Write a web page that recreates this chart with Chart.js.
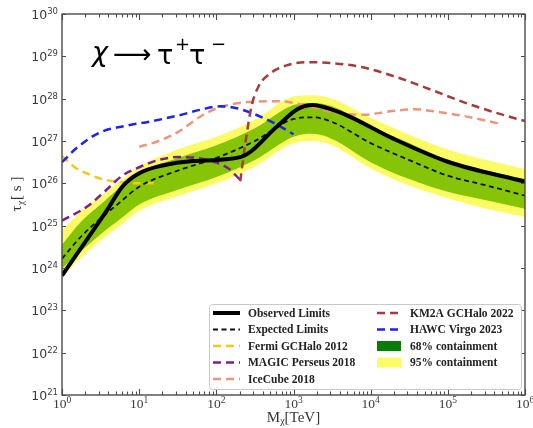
<!DOCTYPE html>
<html>
<head>
<meta charset="utf-8">
<script src="https://cdn.jsdelivr.net/npm/chart.js@4.4.1/dist/chart.umd.min.js"></script>
<style>
  html, body { margin: 0; padding: 0; background: #fff; }
  #wrap { width: 533px; height: 428px; position: relative; }
</style>
</head>
<body>
<div id="wrap"><canvas id="chart"></canvas></div>
<script>
// Masses (TeV) and lifetimes (s) are kept as log10 exponents.
const obsMass = [0, 0.34, 0.56, 0.79, 1.0, 1.27, 1.7, 2.31, 2.79, 3.05, 3.25, 3.5, 3.7, 4.3, 5.0, 6.0];
const obsTau  = [23.82, 24.72, 25.3, 25.94, 26.24, 26.41, 26.53, 26.62, 27.35, 27.75, 27.85, 27.74, 27.6, 27.05, 26.51, 26.04];

const bandMass = [0, 0.25, 0.5, 0.75, 1.0, 1.5, 2.0, 2.5, 3.0, 3.25, 3.5, 4.0, 4.5, 5.0, 5.5, 6.0];
const expTau   = [24.22, 24.75, 25.17, 25.55, 25.92, 26.3, 26.6, 27.0, 27.52, 27.56, 27.45, 26.95, 26.55, 26.18, 25.95, 25.71];
const g68Hi    = [24.55, 25.1, 25.5, 25.9, 26.25, 26.6, 26.9, 27.3, 27.85, 27.9, 27.82, 27.35, 26.95, 26.55, 26.3, 26.1];
const g68Lo    = [23.99, 24.4, 24.8, 25.15, 25.5, 25.85, 26.15, 26.55, 27.1, 27.17, 27.05, 26.5, 26.1, 25.8, 25.6, 25.4];
const y95Hi    = [24.88, 25.35, 25.7, 26.05, 26.4, 26.8, 27.1, 27.5, 28.05, 28.08, 28.0, 27.55, 27.15, 26.8, 26.55, 26.34];
const y95Lo    = [23.8, 24.25, 24.65, 25.0, 25.35, 25.7, 26.0, 26.4, 26.95, 27.0, 26.9, 26.35, 25.95, 25.65, 25.4, 25.21];

const fermiMass = [0, 0.15, 0.34, 0.56, 0.8, 1.0, 1.25];
const fermiTau  = [26.65, 26.4, 26.22, 26.08, 26.02, 26.0, 26.0];

const magicMass = [0, 0.34, 0.56, 0.78, 1.0, 1.25, 1.5, 1.75, 1.95, 2.15, 2.31];
const magicTau  = [25.12, 25.47, 25.82, 26.18, 26.38, 26.55, 26.62, 26.6, 26.52, 26.36, 26.08];

const iceMass = [1.0, 1.25, 1.49, 1.83, 2.05, 2.4, 2.83, 3.13, 3.5, 3.91, 4.25, 4.56, 4.9, 5.21, 5.69];
const iceTau  = [26.86, 27.0, 27.2, 27.62, 27.8, 27.92, 27.94, 27.85, 27.68, 27.62, 27.7, 27.75, 27.68, 27.59, 27.4];

const km2aMass = [2.31, 2.38, 2.46, 2.55, 2.7, 2.9, 3.15, 3.5, 3.9, 4.35, 4.8, 5.2, 5.6, 6.0];
const km2aTau  = [26.05, 27.0, 27.85, 28.3, 28.6, 28.78, 28.86, 28.84, 28.74, 28.5, 28.2, 27.92, 27.68, 27.47];

const hawcMass = [0, 0.2, 0.49, 0.8, 1.14, 1.5, 1.8, 2.05, 2.25, 2.5, 2.75, 3.0];
const hawcTau  = [26.5, 26.85, 27.2, 27.35, 27.46, 27.6, 27.74, 27.82, 27.78, 27.63, 27.42, 27.16];

const xTickExp = [0, 1, 2, 3, 4, 5, 6];
const yTickExp = [21, 22, 23, 24, 25, 26, 27, 28, 29, 30];

const pts = (lm, lt) => lm.map((m, i) => ({ x: Math.pow(10, m), y: Math.pow(10, lt[i]) }));

function line(label, lm, lt, color, width, dash) {
    return {
        label, data: pts(lm, lt),
        borderColor: color, backgroundColor: color,
        borderWidth: width, borderDash: dash || [],
        pointRadius: 0, fill: false,
        cubicInterpolationMode: 'monotone'
    };
}

const datasets = [
    line('Observed Limits', obsMass, obsTau, '#000000', 4),
    line('Expected Limits', bandMass, expTau, '#111111', 1.8, [5, 3.5]),
    line('KM2A GCHalo 2022', km2aMass, km2aTau, '#a83a3a', 2.5, [8, 5]),
    line('HAWC Virgo 2023', hawcMass, hawcTau, '#1f22e8', 2.5, [8, 5]),
    line('IceCube 2018', iceMass, iceTau, '#e9967a', 2.5, [8, 5]),
    line('MAGIC Perseus 2018', magicMass, magicTau, '#7d1f86', 2.5, [8, 5]),
    line('Fermi GCHalo 2012', fermiMass, fermiTau, '#f7c916', 2.5, [8, 5]),
    // containment bands: upper edge fills down to the lower edge
    { label: '68% containment', data: pts(bandMass, g68Hi), borderWidth: 0, pointRadius: 0,
      backgroundColor: '#85c406', fill: 8, cubicInterpolationMode: 'monotone' },
    { label: '68lo', data: pts(bandMass, g68Lo), borderWidth: 0, pointRadius: 0, fill: false,
      cubicInterpolationMode: 'monotone' },
    { label: '95% containment', data: pts(bandMass, y95Hi), borderWidth: 0, pointRadius: 0,
      backgroundColor: '#fbfb66', fill: 10, cubicInterpolationMode: 'monotone' },
    { label: '95lo', data: pts(bandMass, y95Lo), borderWidth: 0, pointRadius: 0, fill: false,
      cubicInterpolationMode: 'monotone' }
];

// legend layout: [dataset index, swatch kind, solid colour for patches]
const legendCols = [
    [[0, 'line'], [1, 'line'], [6, 'line'], [5, 'line'], [4, 'line']],
    [[2, 'line'], [3, 'line'], [7, 'patch', '#067d06'], [9, 'patch', '#fbfb66']]
];

function drawPow(ctx, base, exp, x, y, align, font, supFont, bigPx, supPx, rise) {
    ctx.font = bigPx + 'px ' + font;
    const w1 = ctx.measureText(base).width;
    ctx.font = supPx + 'px ' + supFont;
    const w2 = ctx.measureText(exp).width;
    let x0 = x;
    if (align === 'right') x0 = x - w1 - w2;
    else if (align === 'center') x0 = x - (w1 + w2) / 2;
    ctx.textAlign = 'left';
    ctx.textBaseline = 'alphabetic';
    ctx.font = bigPx + 'px ' + font;
    ctx.fillText(base, x0, y);
    ctx.font = supPx + 'px ' + supFont;
    ctx.fillText(exp, x0 + w1, y - rise);
}

const decorations = {
    id: 'decorations',
    afterDraw(chart) {
        const { ctx, chartArea: a, scales: { x, y } } = chart;
        ctx.save();

        // frame and inward ticks
        ctx.strokeStyle = '#4a4a4a';
        ctx.lineWidth = 1.4;
        ctx.strokeRect(a.left, a.top, a.right - a.left, a.bottom - a.top);
        ctx.beginPath();
        ctx.lineWidth = 1.1;
        for (let e = 0; e <= 6; e++) {
            for (let m = 1; m <= 9; m++) {
                if (e === 6 && m > 1) break;
                const px = Math.round(x.getPixelForValue(m * Math.pow(10, e))) + 0.5;
                const len = m === 1 ? 6 : 3.5;
                ctx.moveTo(px, a.bottom); ctx.lineTo(px, a.bottom - len);
                ctx.moveTo(px, a.top); ctx.lineTo(px, a.top + len);
            }
        }
        yTickExp.forEach(e => {
            const py = Math.round(y.getPixelForValue(Math.pow(10, e))) + 0.5;
            ctx.moveTo(a.left, py); ctx.lineTo(a.left + 4, py);
            ctx.moveTo(a.right, py); ctx.lineTo(a.right - 4, py);
        });
        ctx.stroke();

        // tick labels
        ctx.fillStyle = '#3a3a3a';
        yTickExp.forEach(e => {
            const py = y.getPixelForValue(Math.pow(10, e));
            drawPow(ctx, '10', String(e), a.left - 4, py + 5, 'right',
                    '"DejaVu Sans"', '"DejaVu Sans"', 12.5, 8.5, 5);
        });
        xTickExp.forEach(e => {
            const px = x.getPixelForValue(Math.pow(10, e));
            drawPow(ctx, '10', String(e), px, a.bottom + 13, 'center',
                    '"Liberation Serif"', '"Liberation Serif"', 13.5, 9.5, 5);
        });

        // axis titles
        ctx.fillStyle = '#333';
        ctx.font = '15px "Liberation Serif"';
        let w1 = ctx.measureText('M').width;
        ctx.font = '10px "Liberation Serif"';
        let w2 = ctx.measureText('χ').width;
        ctx.font = '15px "Liberation Serif"';
        let w3 = ctx.measureText('[TeV]').width;
        let x0 = (a.left + a.right) / 2 - (w1 + w2 + w3) / 2;
        ctx.textAlign = 'left';
        ctx.fillText('M', x0, 422);
        ctx.font = '10px "Liberation Serif"';
        ctx.fillText('χ', x0 + w1, 424);
        ctx.font = '15px "Liberation Serif"';
        ctx.fillText('[TeV]', x0 + w1 + w2, 422);

        ctx.save();
        ctx.translate(21, (a.top + a.bottom) / 2 - 10);
        ctx.rotate(-Math.PI / 2);
        ctx.font = '15px "Liberation Serif"';
        w1 = ctx.measureText('τ').width;
        ctx.font = '10px "Liberation Serif"';
        w2 = ctx.measureText('χ').width;
        ctx.font = '15px "Liberation Serif"';
        w3 = ctx.measureText('[ s ]').width;
        x0 = -(w1 + w2 + w3) / 2;
        ctx.fillText('τ', x0, 0);
        ctx.font = '10px "Liberation Serif"';
        ctx.fillText('χ', x0 + w1, 3);
        ctx.font = '15px "Liberation Serif"';
        ctx.fillText('[ s ]', x0 + w1 + w2 + 1, 0);
        ctx.restore();

        // decay channel
        ctx.fillStyle = '#000';
        ctx.font = 'italic 27px "DejaVu Sans"';
        ctx.fillText('χ', 92, 61);
        ctx.font = '27px "DejaVu Sans"';
        ctx.fillText('⟶', 113, 63);
        ctx.fillText('τ', 157, 64);
        ctx.font = '18px "DejaVu Sans"';
        ctx.fillText('+', 175, 50);
        ctx.font = '27px "DejaVu Sans"';
        ctx.fillText('τ', 189, 64);
        ctx.font = '18px "DejaVu Sans"';
        ctx.fillText('−', 211, 50);

        // legend
        const lx = 209, ly = 304, lw = 312, lh = 85;
        ctx.fillStyle = '#fff';
        ctx.strokeStyle = '#c8c8c8';
        ctx.lineWidth = 1;
        ctx.beginPath();
        ctx.roundRect(lx + 0.5, ly + 0.5, lw, lh, 3);
        ctx.fill();
        ctx.stroke();
        const colX = [[213, 240, 248], [377, 401, 410]];
        ctx.font = 'bold 11.5px "Liberation Serif"';
        ctx.textBaseline = 'middle';
        legendCols.forEach((col, c) => {
            col.forEach((item, r) => {
                const ds = chart.data.datasets[item[0]];
                const ry = 313 + r * 16.5;
                const [s0, s1, tx] = colX[c];
                if (item[1] === 'line') {
                    ctx.strokeStyle = ds.borderColor;
                    ctx.lineWidth = ds.borderWidth;
                    ctx.setLineDash(ds.borderDash);
                    ctx.beginPath();
                    ctx.moveTo(s0, ry); ctx.lineTo(s1, ry);
                    ctx.stroke();
                    ctx.setLineDash([]);
                } else {
                    ctx.fillStyle = item[2];
                    ctx.fillRect(s0, ry - 5, s1 - s0, 10);
                }
                ctx.fillStyle = '#222';
                ctx.fillText(ds.label, tx, ry + 1);
            });
        });
        ctx.restore();
    }
};

new Chart(document.getElementById('chart'), {
    type: 'line',
    data: { datasets },
    options: {
        responsive: true,
        maintainAspectRatio: false,
        animation: false,
        parsing: false,
        layout: { padding: { left: 0, right: 8, top: 14, bottom: 0 } },
        plugins: { legend: { display: false }, tooltip: { enabled: false } },
        scales: {
            x: {
                type: 'logarithmic', min: 1, max: 1e6,
                grid: { display: false, drawTicks: false },
                border: { display: false },
                ticks: { display: false },
                afterFit: s => { s.height = 33; }
            },
            y: {
                type: 'logarithmic', min: 1e21, max: 1e30,
                grid: { display: false, drawTicks: false },
                border: { display: false },
                ticks: { display: false },
                afterFit: s => { s.width = 62; }
            }
        }
    },
    plugins: [decorations]
});
</script>
</body>
</html>
